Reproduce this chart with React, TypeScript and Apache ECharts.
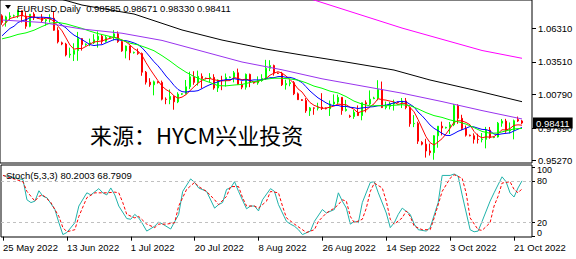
import React, { useEffect, useRef } from 'react';
import * as echarts from 'echarts';

// ---------- data ----------
const tickLabels = ['25 May 2022', '13 Jun 2022', '1 Jul 2022', '20 Jul 2022', '8 Aug 2022', '26 Aug 2022', '14 Sep 2022', '3 Oct 2022', '21 Oct 2022'];
const barsPerLabel = 16;
const slotCount = 133;

const open = [
  1.0735, 1.0680, 1.0726, 1.0734, 1.0735, 1.0778, 1.0733, 1.0648, 1.0749, 1.0718,
  1.0720, 1.0695, 1.0703, 1.0715, 1.0615, 1.0510, 1.0500, 1.0409, 1.0415, 1.0445,
  1.0545, 1.0495, 1.0500, 1.0510, 1.0535, 1.0565, 1.0522, 1.0555, 1.0560, 1.0585,
  1.0520, 1.0443, 1.0483, 1.0427, 1.0430, 1.0420, 1.0265, 1.0182, 1.0160, 1.0185,
  1.0180, 1.0040, 1.0037, 1.0063, 1.0018, 1.0082, 1.0085, 1.0143, 1.0227, 1.0180,
  1.0230, 1.0212, 1.0215, 1.0222, 1.0133, 1.0200, 1.0195, 1.0220, 1.0225, 1.0260,
  1.0163, 1.0140, 1.0247, 1.0180, 1.0175, 1.0195, 1.0213, 1.0298, 1.0320, 1.0258,
  1.0255, 1.0160, 1.0170, 1.0178, 1.0085, 1.0036, 1.0030, 0.9943, 0.9967, 0.9965,
  0.9973, 0.9965, 0.9960, 1.0000, 1.0016, 1.0055, 0.9945, 0.9900, 0.9895, 0.9930,
  0.9903, 1.0010, 1.0000, 1.0045, 1.0050, 1.0120, 0.9970, 0.9980, 0.9999, 1.0015,
  1.0010, 1.0025, 0.9970, 0.9835, 0.9838, 0.9680, 0.9665, 0.9608, 0.9594, 0.9735,
  0.9815, 0.9800, 0.9805, 0.9827, 0.9987, 0.9880, 0.9795, 0.9740, 0.9735, 0.9705,
  0.9703, 0.9705, 0.9782, 0.9720, 0.9725, 0.9840, 0.9857, 0.9775, 0.9780, 0.9870,
  0.98585,
];
const high = [
  1.0748, 1.0736, 1.0765, 1.0745, 1.0787, 1.0780, 1.0765, 1.0750, 1.0765, 1.0726,
  1.0749, 1.0710, 1.0748, 1.0774, 1.0640, 1.0520, 1.0510, 1.0470, 1.0506, 1.0601,
  1.0550, 1.0505, 1.0545, 1.0582, 1.0606, 1.0580, 1.0570, 1.0565, 1.0615, 1.0605,
  1.0530, 1.0487, 1.0486, 1.0437, 1.0462, 1.0429, 1.0275, 1.0215, 1.0195, 1.0190,
  1.0195, 1.0055, 1.0121, 1.0070, 1.0098, 1.0090, 1.0200, 1.0269, 1.0273, 1.0278,
  1.0255, 1.0220, 1.0257, 1.0248, 1.0205, 1.0235, 1.0254, 1.0230, 1.0275, 1.0295,
  1.0190, 1.0254, 1.0253, 1.0185, 1.0230, 1.0248, 1.0368, 1.0365, 1.0328, 1.0262,
  1.0268, 1.0202, 1.0200, 1.0191, 1.0096, 1.0040, 1.0049, 0.9975, 0.9972, 1.0010,
  1.0090, 0.9970, 1.0029, 1.0080, 1.0078, 1.0058, 1.0034, 0.9910, 0.9950, 0.9988,
  1.0010, 1.0030, 1.0113, 1.0060, 1.0198, 1.0187, 1.0020, 1.0017, 1.0036, 1.0020,
  1.0050, 1.0050, 0.9977, 0.9907, 0.9852, 0.9690, 0.9710, 0.9670, 0.9740, 0.9815,
  0.9853, 0.9810, 0.9850, 0.9999, 0.9998, 0.9910, 0.9820, 0.9745, 0.9755, 0.9752,
  0.9758, 0.9809, 0.9808, 0.9730, 0.9850, 0.9875, 0.9876, 0.9846, 0.9870, 0.9895,
  0.98671,
];
const low = [
  1.0660, 1.0645, 1.0700, 1.0728, 1.0716, 1.0680, 1.0627, 1.0640, 1.0700, 1.0712,
  1.0682, 1.0653, 1.0680, 1.0610, 1.0505, 1.0490, 1.0397, 1.0385, 1.0358, 1.0360,
  1.0445, 1.0485, 1.0482, 1.0500, 1.0470, 1.0500, 1.0512, 1.0548, 1.0530, 1.0510,
  1.0435, 1.0380, 1.0365, 1.0420, 1.0410, 1.0235, 1.0162, 1.0143, 1.0072, 1.0170,
  1.0030, 0.9998, 0.9998, 0.9952, 1.0007, 1.0075, 1.0080, 1.0124, 1.0160, 1.0153,
  1.0130, 1.0205, 1.0180, 1.0119, 1.0100, 1.0115, 1.0145, 1.0215, 1.0180, 1.0160,
  1.0123, 1.0120, 1.0140, 1.0170, 1.0160, 1.0185, 1.0200, 1.0274, 1.0236, 1.0250,
  1.0150, 1.0120, 1.0148, 1.0074, 1.0033, 1.0025, 0.9926, 0.9900, 0.9910, 0.9946,
  0.9950, 0.9955, 0.9900, 0.9993, 1.0000, 0.9910, 0.9937, 0.9885, 0.9876, 0.9900,
  0.9864, 0.9930, 0.9990, 1.0040, 1.0030, 0.9966, 0.9955, 0.9955, 0.9945, 1.0005,
  0.9966, 0.9956, 0.9810, 0.9807, 0.9667, 0.9655, 0.9553, 0.9570, 0.9535, 0.9635,
  0.9738, 0.9795, 0.9750, 0.9815, 0.9835, 0.9782, 0.9728, 0.9730, 0.9670, 0.9670,
  0.9680, 0.9630, 0.9710, 0.9715, 0.9720, 0.9810, 0.9760, 0.9755, 0.9705, 0.9850,
  0.98330,
];
const close = [
  1.0680, 1.0726, 1.0734, 1.0735, 1.0778, 1.0733, 1.0648, 1.0749, 1.0718, 1.0720,
  1.0695, 1.0703, 1.0715, 1.0615, 1.0518, 1.0500, 1.0409, 1.0415, 1.0445, 1.0545,
  1.0495, 1.0500, 1.0510, 1.0535, 1.0565, 1.0522, 1.0555, 1.0560, 1.0585, 1.0520,
  1.0443, 1.0483, 1.0427, 1.0430, 1.0420, 1.0265, 1.0182, 1.0160, 1.0185, 1.0180,
  1.0040, 1.0037, 1.0063, 1.0018, 1.0082, 1.0085, 1.0143, 1.0227, 1.0180, 1.0230,
  1.0212, 1.0215, 1.0222, 1.0133, 1.0200, 1.0195, 1.0220, 1.0225, 1.0260, 1.0163,
  1.0140, 1.0247, 1.0180, 1.0175, 1.0195, 1.0213, 1.0298, 1.0320, 1.0258, 1.0255,
  1.0160, 1.0170, 1.0178, 1.0085, 1.0036, 1.0030, 0.9943, 0.9967, 0.9965, 0.9973,
  0.9965, 0.9960, 1.0000, 1.0016, 1.0055, 0.9945, 0.9955, 0.9895, 0.9930, 0.9903,
  1.0010, 1.0000, 1.0040, 1.0050, 1.0120, 0.9970, 0.9980, 0.9999, 1.0015, 1.0010,
  1.0025, 0.9970, 0.9835, 0.9838, 0.9690, 0.9665, 0.9608, 0.9594, 0.9735, 0.9815,
  0.9800, 0.9805, 0.9827, 0.9987, 0.9880, 0.9795, 0.9740, 0.9735, 0.9705, 0.9703,
  0.9705, 0.9782, 0.9720, 0.9725, 0.9840, 0.9857, 0.9775, 0.9780, 0.9860, 0.9858,
  0.98411,
];

// moving averages
const maRed = [
  1.0647, 1.0679, 1.0713, 1.0722, 1.0731, 1.0741, 1.0726, 1.0729, 1.0725, 1.0714,
  1.0706, 1.0717, 1.0710, 1.0690, 1.0649, 1.0610, 1.0551, 1.0491, 1.0457, 1.0463,
  1.0462, 1.0480, 1.0499, 1.0517, 1.0521, 1.0526, 1.0537, 1.0547, 1.0557, 1.0548,
  1.0533, 1.0518, 1.0492, 1.0461, 1.0441, 1.0405, 1.0345, 1.0291, 1.0242, 1.0194,
  1.0149, 1.0120, 1.0101, 1.0068, 1.0048, 1.0057, 1.0078, 1.0111, 1.0143, 1.0173,
  1.0198, 1.0213, 1.0212, 1.0202, 1.0196, 1.0193, 1.0194, 1.0195, 1.0220, 1.0213,
  1.0202, 1.0207, 1.0198, 1.0181, 1.0187, 1.0202, 1.0212, 1.0240, 1.0257, 1.0269,
  1.0258, 1.0233, 1.0204, 1.0170, 1.0126, 1.0100, 1.0054, 1.0012, 0.9989, 0.9976,
  0.9963, 0.9966, 0.9973, 0.9983, 0.9999, 0.9995, 0.9994, 0.9973, 0.9956, 0.9926,
  0.9939, 0.9948, 0.9977, 1.0001, 1.0044, 1.0036, 1.0032, 1.0024, 1.0017, 0.9995,
  1.0006, 1.0004, 0.9971, 0.9935, 0.9871, 0.9799, 0.9727, 0.9678, 0.9658, 0.9683,
  0.9710, 0.9750, 0.9796, 0.9847, 0.9860, 0.9859, 0.9846, 0.9827, 0.9771, 0.9736,
  0.9718, 0.9726, 0.9723, 0.9727, 0.9754, 0.9785, 0.9783, 0.9795, 0.9822, 0.9826,
  0.9823,
];
const maBlue = [
  1.0568, 1.0600, 1.0630, 1.0648, 1.0679, 1.0694, 1.0702, 1.0721, 1.0724, 1.0722,
  1.0724, 1.0721, 1.0719, 1.0707, 1.0681, 1.0658, 1.0634, 1.0601, 1.0574, 1.0556,
  1.0536, 1.0516, 1.0495, 1.0487, 1.0492, 1.0494, 1.0509, 1.0523, 1.0537, 1.0535,
  1.0530, 1.0528, 1.0520, 1.0509, 1.0495, 1.0469, 1.0432, 1.0392, 1.0352, 1.0318,
  1.0277, 1.0233, 1.0196, 1.0155, 1.0121, 1.0103, 1.0099, 1.0106, 1.0106, 1.0111,
  1.0128, 1.0146, 1.0161, 1.0173, 1.0185, 1.0196, 1.0203, 1.0203, 1.0211, 1.0205,
  1.0197, 1.0201, 1.0196, 1.0201, 1.0200, 1.0202, 1.0210, 1.0219, 1.0219, 1.0228,
  1.0230, 1.0222, 1.0222, 1.0213, 1.0197, 1.0179, 1.0144, 1.0108, 1.0079, 1.0051,
  1.0031, 1.0010, 0.9993, 0.9986, 0.9988, 0.9979, 0.9980, 0.9973, 0.9969, 0.9962,
  0.9967, 0.9971, 0.9975, 0.9978, 0.9985, 0.9987, 0.9990, 1.0000, 1.0009, 1.0019,
  1.0021, 1.0018, 0.9997, 0.9976, 0.9933, 0.9902, 0.9865, 0.9825, 0.9797, 0.9777,
  0.9755, 0.9738, 0.9737, 0.9753, 0.9772, 0.9785, 0.9798, 0.9812, 0.9809, 0.9798,
  0.9788, 0.9786, 0.9775, 0.9749, 0.9745, 0.9751, 0.9755, 0.9759, 0.9775, 0.9790,
  0.9804,
];
const maGreen: [number, number][] = [
  [0, 1.0543], [2, 1.0559], [4, 1.0580], [6, 1.0593], [8, 1.0615], [10, 1.0646], [12, 1.0674], [14, 1.0680],
  [16, 1.0668], [18, 1.0649], [20, 1.0630], [22, 1.0607], [24, 1.0587], [26, 1.0571], [28, 1.0555], [30, 1.0533],
  [32, 1.0507], [34, 1.0493], [36, 1.0470], [38, 1.0444], [40, 1.0403], [42, 1.0358], [44, 1.0308], [46, 1.0265],
  [48, 1.0229], [50, 1.0202], [52, 1.0179], [54, 1.0153], [56, 1.0151], [58, 1.0158], [60, 1.0163], [62, 1.0179],
  [64, 1.0192], [66, 1.0207], [68, 1.0215], [70, 1.0214], [72, 1.0209], [74, 1.0199], [76, 1.0177], [78, 1.0149],
  [80, 1.0131], [82, 1.0107], [84, 1.0092], [86, 1.0062], [88, 1.0024], [90, 0.9999], [92, 0.9984], [94, 0.9986],
  [96, 0.9985], [98, 0.9989], [100, 0.9994], [102, 0.9986], [104, 0.9959], [106, 0.9928], [108, 0.9903], [110, 0.9888],
  [112, 0.9867], [114, 0.9852], [116, 0.9832], [118, 0.9803], [120, 0.9771], [122, 0.9756], [124, 0.9758], [126, 0.9776],
  [128, 0.9792], [130, 0.9796],
];
const maPurple: [number, number][] = [
  [0, 1.0700], [10, 1.0680], [20, 1.0625], [30, 1.0590], [40, 1.0530], [50, 1.0440], [60, 1.0350],
  [70, 1.0285], [80, 1.0210], [90, 1.0150], [100, 1.0090], [110, 1.0020], [120, 0.9945], [130, 0.9875],
];
const maBlack: [number, number][] = [
  [12, 1.0900], [20, 1.0825], [33, 1.0750], [45, 1.0617], [55, 1.0533], [66, 1.0458], [75, 1.0408],
  [86, 1.0350], [98, 1.0283], [107, 1.0200], [118, 1.0116], [130, 1.0019],
];
const maMagenta: [number, number][] = [
  [72, 1.0915], [78, 1.0867], [100, 1.0633], [120, 1.0446], [130, 1.0381],
];

// Stochastic(5,3,3)
const stochMain: [number, number][] = [
  [0, 88], [5, 82], [6, 53], [7, 49], [8, 51], [9, 66], [10, 58], [11, 56], [13, 39], [14, 20], [15, 3], [16, 6],
  [18, 20], [19, 44], [21, 63], [22, 60], [24, 69], [25, 63], [26, 60], [27, 70], [28, 60], [29, 44], [31, 26],
  [32, 25], [33, 32], [34, 27], [35, 18], [36, 8], [38, 15], [39, 21], [40, 18], [42, 11], [44, 32], [45, 65],
  [47, 83], [48, 78], [49, 70], [51, 65], [53, 41], [54, 46], [55, 49], [56, 68], [57, 70], [58, 79], [59, 65],
  [61, 40], [62, 44], [63, 44], [64, 37], [65, 53], [67, 69], [68, 65], [69, 46], [71, 22], [72, 18], [73, 15],
  [74, 10], [75, 3], [77, 8], [78, 22], [80, 39], [81, 34], [83, 39], [84, 63], [85, 51], [86, 41], [87, 18],
  [88, 22], [89, 20], [90, 49], [92, 78], [93, 79], [94, 63], [96, 34], [97, 13], [98, 20], [99, 32], [100, 41],
  [102, 32], [103, 18], [104, 10], [106, 8], [107, 13], [109, 49], [110, 88], [112, 88], [113, 90], [114, 87],
  [115, 60], [117, 10], [118, 7], [119, 8], [120, 22], [122, 51], [123, 63], [125, 86], [126, 79], [127, 63],
  [128, 57], [129, 70], [130, 80.2003],
];
const stochSignal: [number, number][] = [
  [0, 88], [5, 79], [6, 65], [8, 51], [9, 58], [10, 60], [12, 49], [14, 29], [15, 13], [16, 7], [18, 10],
  [19, 29], [21, 56], [23, 63], [24, 63], [26, 63], [28, 64], [29, 63], [30, 49], [31, 32], [33, 27], [34, 29],
  [36, 18], [38, 13], [39, 18], [41, 18], [43, 20], [44, 44], [46, 68], [48, 78], [49, 72], [51, 65], [53, 53],
  [54, 46], [56, 58], [57, 72], [59, 72], [60, 56], [61, 44], [63, 44], [64, 41], [66, 51], [67, 65], [69, 63],
  [70, 44], [71, 27], [73, 18], [75, 10], [76, 6], [78, 10], [79, 22], [81, 34], [83, 41], [84, 46], [85, 53],
  [86, 51], [87, 29], [88, 20], [90, 25], [91, 41], [92, 65], [93, 77], [95, 70], [96, 51], [97, 25], [98, 18],
  [100, 27], [101, 37], [102, 29], [103, 15], [105, 10], [107, 10], [108, 27], [110, 65], [112, 84], [113, 89],
  [115, 84], [116, 63], [117, 27], [119, 10], [120, 9], [122, 20], [123, 44], [124, 58], [125, 77], [127, 79],
  [128, 68], [129, 63], [130, 68.7909],
];

const priceTicks = [0.9527, 0.9799, 1.0079, 1.0351, 1.0631];
const stochTicks = [0, 20, 80, 100];
const stochInnerLabels = [20, 80];
const stochOuterLabels = [0, 100];
const stochLevels = [20, 80];
const lastPrice = 0.98411;
const headerText = 'EURUSD,Daily  0.98585 0.98671 0.98330 0.98411';
const stochText = 'Stoch(5,3,3) 80.2003 68.7909';
const watermarkText = '来源：HYCM兴业投资';

// ---------- helpers ----------
const FONT = '"Liberation Sans", Arial, sans-serif';
const slots = Array.from({ length: slotCount }, (_, i) => String(i));
const spread = (pairs: [number, number][]) => {
  const arr: (number | null)[] = new Array(slotCount).fill(null);
  pairs.forEach(([i, v]) => { arr[i] = v; });
  return arr;
};
const isLabelSlot = (i: number) => i % barsPerLabel === 0 && i / barsPerLabel < tickLabels.length;

const lineSeries = (name: string, data: (number | null)[], color: string, axis = 0, extra: any = {}) => ({
  name,
  type: 'line',
  xAxisIndex: axis,
  yAxisIndex: axis,
  data,
  showSymbol: false,
  symbol: 'none',
  connectNulls: true,
  silent: true,
  lineStyle: { color, width: 1 },
  z: 3,
  ...extra,
});

const labelText = { fontSize: 9.5, fontFamily: FONT, color: '#000' };
const stochLabelText = { fontSize: 9, fontFamily: FONT, color: '#000', lineHeight: 8 };
const STOCH_MIN = -0.5;
const STOCH_MAX = 103;
// label-only scale of the stochastic panel: MT4 pulls the 0 and 100 captions inside the pane
const STOCH_LABEL_MIN = -5.56;
const STOCH_LABEL_MAX = 108.73;

export default function App() {
  const ref = useRef<HTMLDivElement>(null);
  useEffect(() => {
    if (!ref.current) return;
    const chart = echarts.init(ref.current, null, { renderer: 'svg' });
    const candles = open.map((o, i) => [o, close[i], low[i], high[i]]);
    const option: any = {
      animation: false,
      backgroundColor: '#ffffff',
      grid: [
        { left: 0, top: 0, width: 532, height: 163, show: true, borderColor: '#000', borderWidth: 1, backgroundColor: '#fff' },
        { left: 0, top: 165, width: 532, height: 72, show: true, borderColor: '#000', borderWidth: 1, backgroundColor: '#fff' },
      ],
      xAxis: [
        { type: 'category', gridIndex: 0, data: slots, boundaryGap: true, show: false },
        {
          type: 'category', gridIndex: 1, data: slots, boundaryGap: true,
          axisLine: { show: false },
          axisTick: { show: true, alignWithLabel: true, interval: (i: number) => isLabelSlot(i), length: 4, lineStyle: { color: '#000' } },
          axisLabel: {
            interval: (i: number) => isLabelSlot(i),
            formatter: (_: string, i: number) => (isLabelSlot(i) ? tickLabels[i / barsPerLabel] : ''),
            align: 'left', margin: 5, ...labelText,
          },
          splitLine: { show: false },
        },
      ],
      yAxis: [
        {
          type: 'value', gridIndex: 0, position: 'right', min: 0.95078, max: 1.0867,
          axisLine: { show: false },
          axisTick: { show: true, customValues: priceTicks, length: 4, lineStyle: { color: '#000' } },
          axisLabel: { customValues: priceTicks, formatter: (v: number) => v.toFixed(5), margin: 6, ...labelText },
          splitLine: { show: false },
        },
        {
          type: 'value', gridIndex: 1, position: 'right', min: STOCH_MIN, max: STOCH_MAX,
          axisLine: { show: false },
          axisTick: { show: true, customValues: stochTicks, length: 3, lineStyle: { color: '#000' } },
          axisLabel: { customValues: stochInnerLabels, margin: 5, ...stochLabelText },
          splitLine: { show: false },
        },
        {
          type: 'value', gridIndex: 1, position: 'right', min: STOCH_LABEL_MIN, max: STOCH_LABEL_MAX,
          axisLine: { show: false },
          axisTick: { show: false },
          axisLabel: {
            customValues: stochOuterLabels, margin: 5, ...stochLabelText,
            showMinLabel: true, showMaxLabel: true,
          },
          splitLine: { show: false },
        },
      ],
      series: [
        {
          name: 'EURUSD', type: 'candlestick', xAxisIndex: 0, yAxisIndex: 0, data: candles,
          barWidth: 2, silent: true, z: 2,
          itemStyle: { color: '#00ff00', color0: '#ff0000', borderColor: '#00ff00', borderColor0: '#ff0000', borderWidth: 1 },
          markLine: {
            silent: true, symbol: 'none', animation: false, precision: 5,
            data: [{ yAxis: lastPrice }],
            lineStyle: { color: 'rgba(0,0,0,0)', width: 0 },
            label: {
              show: true, position: 'end', distance: 1,
              formatter: () => lastPrice.toFixed(5),
              color: '#fff', backgroundColor: '#000', padding: [1, 3, 0, 3],
              fontSize: 9.5, fontFamily: FONT, lineHeight: 10,
            },
          },
        },
        lineSeries('MA red', maRed, '#ff0000'),
        lineSeries('MA blue', maBlue, '#0000ff'),
        lineSeries('MA green', spread(maGreen), '#00ff00'),
        lineSeries('MA purple', spread(maPurple), '#9933ee'),
        lineSeries('MA black', spread(maBlack), '#000000'),
        lineSeries('MA magenta', spread(maMagenta), '#ff00ff'),
        lineSeries('Stoch main', spread(stochMain), '#20b2aa', 1, {
          markLine: {
            silent: true, symbol: 'none', animation: false,
            data: stochLevels.map((v) => ({ yAxis: v })),
            lineStyle: { color: '#c0c0c0', type: [3, 3], width: 1 },
            label: { show: false },
          },
        }),
        lineSeries('Stoch signal', spread(stochSignal), '#ff0000', 1, {
          lineStyle: { color: '#ff0000', width: 1, type: [3, 2] },
          z: 4,
        }),
      ],
      graphic: [
        { type: 'polygon', shape: { points: [[5, 5], [11, 5], [8, 9]] }, style: { fill: '#000' }, z: 100 },
        { type: 'text', x: 17, y: 8, z: 100, style: { text: headerText, fill: '#000', fontSize: 9.5, fontFamily: FONT, verticalAlign: 'middle' } },
        { type: 'text', x: 6, y: 175, z: 100, style: { text: stochText, fill: '#000', fontSize: 9.5, fontFamily: FONT, verticalAlign: 'middle' } },
        { type: 'text', x: 90, y: 134, z: 100, style: { text: watermarkText, fill: '#000', fontSize: 22, fontFamily: '"Noto Sans CJK SC", sans-serif', verticalAlign: 'middle' } },
      ],
    };
    chart.setOption(option);
    return () => chart.dispose();
  }, []);
  return <div ref={ref} style={{ position: 'absolute', left: 0, top: 0, width: 576, height: 259, background: '#fff' }} />;
}
